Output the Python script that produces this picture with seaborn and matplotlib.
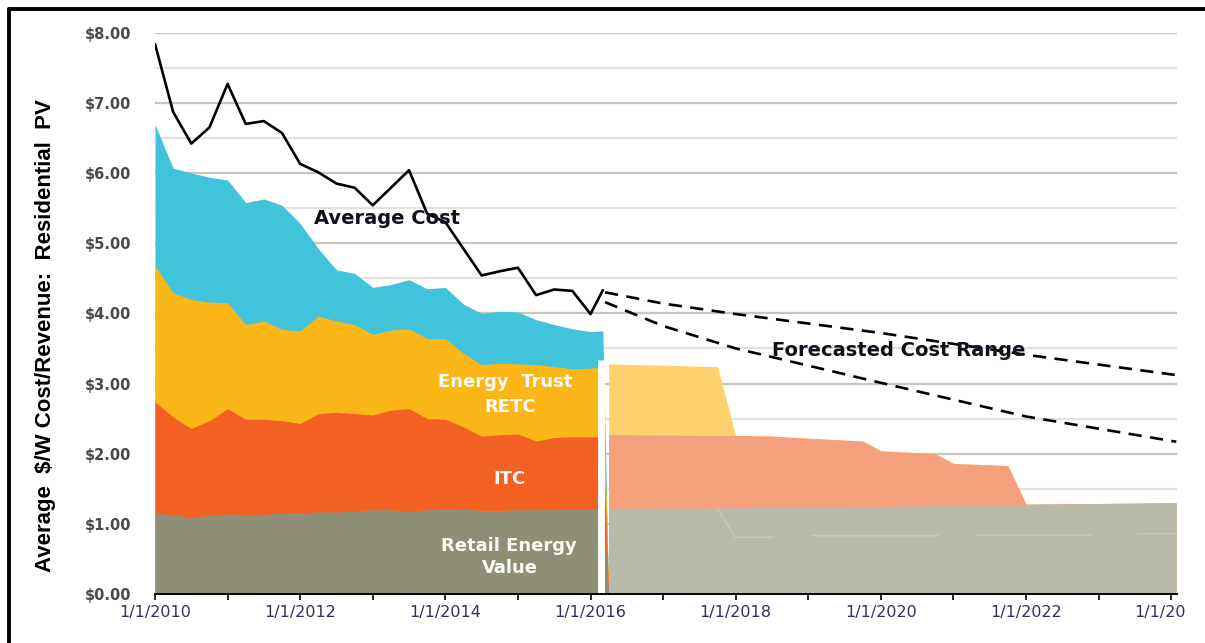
import numpy as np
import matplotlib
matplotlib.use("Agg")
import matplotlib.pyplot as plt
from matplotlib.lines import Line2D
from matplotlib.transforms import ScaledTranslation
from matplotlib.ticker import MultipleLocator, FixedLocator
import seaborn as sns

# ---------------- data ----------------
hist_years = [2010.00, 2010.25, 2010.50, 2010.75, 2011.00, 2011.25, 2011.50, 2011.75,
              2012.00, 2012.25, 2012.50, 2012.75, 2013.00, 2013.25, 2013.50, 2013.75,
              2014.00, 2014.25, 2014.50, 2014.75, 2015.00, 2015.25, 2015.50, 2015.75,
              2016.00, 2016.17]
hist_end_year = 2016.25

retail_value = [1.15, 1.13, 1.09, 1.12, 1.14, 1.13, 1.13, 1.16, 1.16, 1.17, 1.17, 1.18, 1.20,
                1.20, 1.17, 1.20, 1.22, 1.21, 1.19, 1.19, 1.20, 1.20, 1.20, 1.21, 1.21, 1.21]
itc = [1.59, 1.39, 1.27, 1.35, 1.50, 1.36, 1.36, 1.31, 1.27, 1.40, 1.42, 1.39, 1.35,
       1.42, 1.47, 1.30, 1.27, 1.17, 1.06, 1.08, 1.08, 0.98, 1.03, 1.03, 1.03, 1.03]
retc = [1.94, 1.77, 1.84, 1.69, 1.51, 1.35, 1.40, 1.30, 1.32, 1.39, 1.30, 1.27, 1.15,
        1.14, 1.14, 1.14, 1.15, 1.05, 1.02, 1.02, 1.00, 1.09, 1.01, 0.97, 0.98, 0.99]
energy_trust = [2.01, 1.78, 1.80, 1.78, 1.75, 1.74, 1.74, 1.77, 1.53, 0.96, 0.73, 0.73, 0.67,
                0.65, 0.70, 0.71, 0.73, 0.70, 0.73, 0.74, 0.74, 0.64, 0.60, 0.57, 0.52, 0.52]
average_cost = [7.84, 6.87, 6.42, 6.65, 7.27, 6.70, 6.74, 6.57, 6.13, 6.01, 5.85, 5.79, 5.54,
                5.79, 6.04, 5.42, 5.30, 4.92, 4.54, 4.60, 4.65, 4.26, 4.34, 4.32, 3.99, 4.33]

fc_years = [2016.25, 2017.75, 2018.00, 2018.50, 2019.00, 2019.75, 2020.00, 2020.75,
            2021.00, 2021.75, 2022.00, 2024.07]
fc_retail = [1.22, 1.225, 1.23, 1.235, 1.24, 1.245, 1.25, 1.26, 1.265, 1.275, 1.28, 1.30]
fc_itc = [1.05, 1.035, 1.03, 1.015, 0.98, 0.935, 0.79, 0.74, 0.595, 0.555, 0.0, 0.0]
fc_retc = [1.01, 0.98, 0.0, 0.0, 0.0, 0.0, 0.0, 0.0, 0.0, 0.0, 0.0, 0.0]

fc_faint_years = [2017.75, 2018.00, 2018.52, 2018.53, 2019.05, 2020.79, 2020.80, 2021.30,
                  2022.91, 2022.92, 2023.54, 2024.07]
fc_faint_value = [1.21, 0.81, 0.81, np.nan, 0.83, 0.83, np.nan, 0.84, 0.84, np.nan, 0.86, 0.86]

fc_cost_years = [2016.20, 2017.00, 2018.00, 2020.00, 2022.00, 2024.07]
fc_cost_high = [4.30, 4.14, 3.99, 3.72, 3.41, 3.12]
fc_cost_low = [4.16, 3.82, 3.50, 3.01, 2.53, 2.17]

separator_year = 2016.15
separator_top = 3.33

y_ticks = [0, 1, 2, 3, 4, 5, 6, 7, 8]
y_labels = ["$0.00", "$1.00", "$2.00", "$3.00", "$4.00", "$5.00", "$6.00", "$7.00", "$8.00"]
x_ticks = [2010, 2012, 2014, 2016, 2018, 2020, 2022, 2024]
x_labels = ["1/1/2010", "1/1/2012", "1/1/2014", "1/1/2016", "1/1/2018", "1/1/2020",
            "1/1/2022", "1/1/20"]
y_title = "Average  $/W Cost/Revenue:  Residential  PV"

# ---------------- style ----------------
sns.set_style("white")
plt.rcParams["font.family"] = ["DejaVu Sans"]

c_retail, c_itc, c_retc, c_trust = "#8f8f77", "#f26024", "#fbb617", "#42c3dc"
c_fretail, c_fitc, c_fretc = "#b9b9aa", "#f5a07c", "#fdd16e"

W, H = 1205, 643
fig = plt.figure(figsize=(W / 100, H / 100), dpi=100)
ax = fig.add_axes([155 / W, 49 / H, 1022 / W, 561.3 / H])


def stacked(ax, xs, comps, colors):
    tops = np.cumsum(np.array(comps, dtype=float), axis=0)
    for top, c in list(zip(tops, colors))[::-1]:
        ax.fill_between(xs, 0, top, color=c, lw=0, zorder=2)


# historic stacked areas (drop to zero at end)
hx = hist_years + [hist_end_year]
stacked(ax, hx, [retail_value + [0], itc + [0], retc + [0], energy_trust + [0]],
        [c_retail, c_itc, c_retc, c_trust])
# forecast stacked areas
stacked(ax, fc_years, [fc_retail, fc_itc, fc_retc], [c_fretail, c_fitc, c_fretc])

ax.plot(fc_faint_years, fc_faint_value, color="#c8c8bc", lw=1.1, zorder=2.5)

# separator
ax.plot([separator_year, separator_year], [0, separator_top], color="white", lw=5,
        solid_capstyle="butt", zorder=2.6)

# average cost line
sns.lineplot(x=hist_years, y=average_cost, color="black", linewidth=1.9, ax=ax,
             zorder=3, estimator=None)
# forecast range dashed lines
for vals in (fc_cost_high, fc_cost_low):
    sns.lineplot(x=fc_cost_years, y=vals, color="black", linewidth=1.9, ax=ax,
                 zorder=3, estimator=None)
    ax.lines[-1].set_dashes([5, 3.2])

# ---------------- axes ----------------
ax.set_xlim(2010, 2024.08)
ax.set_ylim(0, 8)
ax.yaxis.set_major_locator(FixedLocator(y_ticks))
ax.set_yticklabels(y_labels)
ax.yaxis.set_minor_locator(MultipleLocator(0.5))
ax.xaxis.set_major_locator(FixedLocator(x_ticks))
ax.set_xticklabels(x_labels)
ax.xaxis.set_minor_locator(MultipleLocator(1))

ax.set_axisbelow(True)
ax.grid(False)
ax.yaxis.grid(True, which="major", color="#c6c6ba", lw=1.6)
ax.yaxis.grid(True, which="minor", color="#e3e3dc", lw=1.6)

for s in ["left", "top", "right"]:
    ax.spines[s].set_visible(False)
ax.spines["bottom"].set_color("black")
ax.spines["bottom"].set_linewidth(1.4)
ax.spines["bottom"].set_zorder(5)

ax.tick_params(axis="y", which="both", length=0, pad=17, labelsize=10.5,
               labelcolor="#48484e")
for lbl in ax.get_yticklabels():
    lbl.set_fontweight("bold")
ax.tick_params(axis="x", which="both", direction="out", length=4, width=1.2,
               color="black", bottom=True, pad=4, labelsize=11.5, labelcolor="#34305a")

lbls = ax.get_xticklabels()
lbls[-1].set_transform(lbls[-1].get_transform() +
                       ScaledTranslation(-11 / 100, 0, fig.dpi_scale_trans))

# ---------------- texts ----------------
ax.text(2013.19, 5.35, "Average Cost", ha="center", va="center", fontsize=14,
        fontweight="bold", color="#10101c", zorder=4)
ax.text(2020.24, 3.47, "Forecasted Cost Range", ha="center", va="center", fontsize=14,
        fontweight="bold", color="#10101c", zorder=4)
for txt, xx, yy in [("Energy  Trust", 2014.82, 3.02), ("RETC", 2014.90, 2.66),
                    ("ITC", 2014.89, 1.64), ("Retail Energy", 2014.88, 0.68),
                    ("Value", 2014.89, 0.37)]:
    ax.text(xx, yy, txt, ha="center", va="center", fontsize=13, fontweight="bold",
            color="#fbfbf5", zorder=4)

fig.text(46 / W, 1 - 336 / H, y_title, rotation=90, ha="center", va="center",
         fontsize=16, fontweight="bold", family=["Liberation Sans", "DejaVu Sans"],
         color="black")

# outer frame (left and top)
fig.add_artist(Line2D([8.5 / W, 8.5 / W], [0, 1 - 8.5 / H], color="black", lw=2.8,
                      transform=fig.transFigure))
fig.add_artist(Line2D([8.5 / W, 1], [1 - 8.5 / H, 1 - 8.5 / H], color="black", lw=2.8,
                      transform=fig.transFigure))

fig.savefig("out.png", dpi=100)
